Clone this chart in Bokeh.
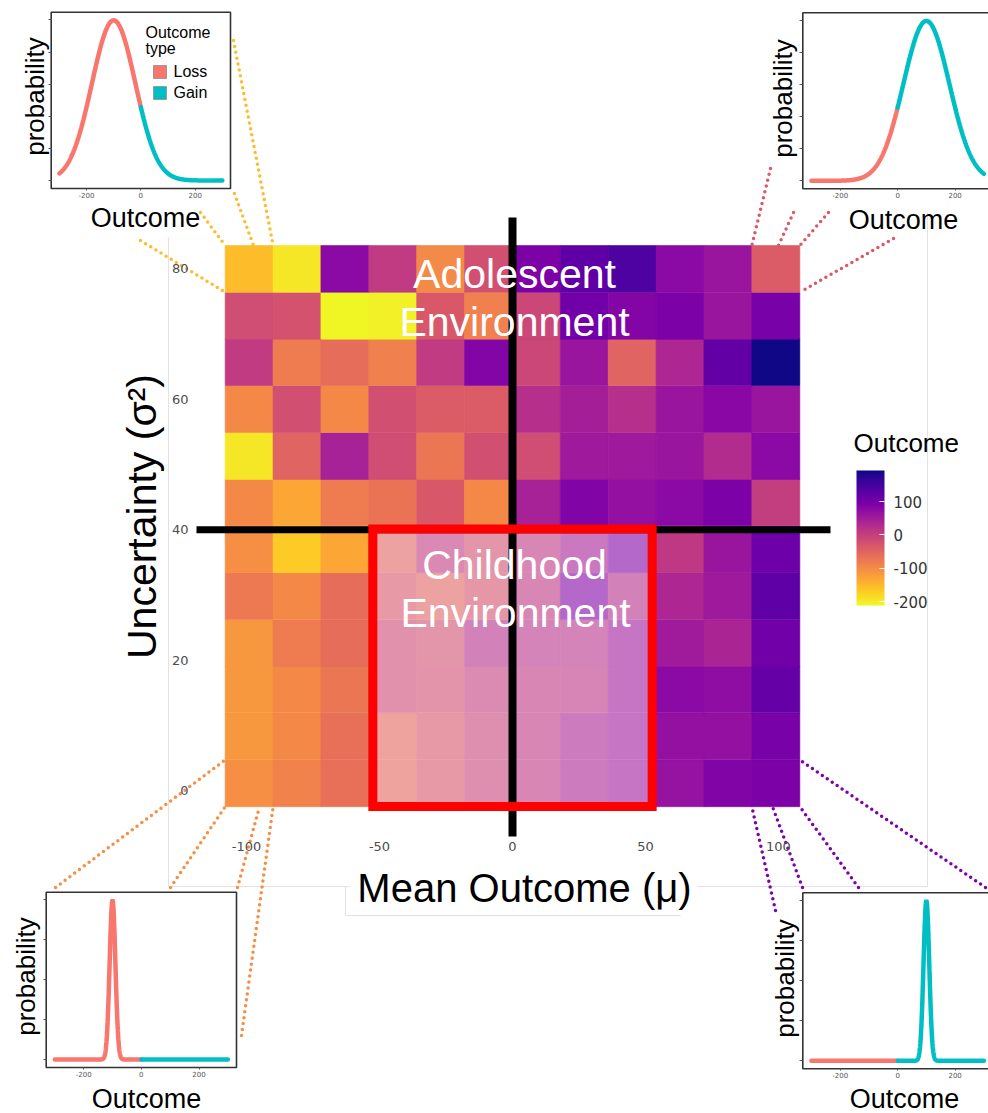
import numpy as np
from bokeh.plotting import figure
from bokeh.models import (ColumnDataSource, LinearColorMapper, ColorBar, LinearAxis,
                          FixedTicker, Range1d)
from bokeh.palettes import Plasma256
from bokeh.core.properties import value
from bokeh.embed import file_html
from bokeh.resources import INLINE

# ------------------------------------------------------------------ data
mean_outcome = [-99, -81, -63, -45, -27, -9, 9, 27, 45, 63, 81, 99]
uncertainty = [1.1, 8.3, 15.5, 22.6, 29.8, 37.0, 44.2, 51.3, 58.5, 65.7, 72.8, 80.0]

outcome_u01 = [-103, -90, -66, -54, -34, -6, 11, 39, 55, 64, 88, 92]
outcome_u08 = [-115, -98, -66, -54, -34, -6, 11, 39, 55, 68, 68, 96]
outcome_u16 = [-115, -98, -74, -14, -18, 3, 11, 15, 55, 76, 72, 116]
outcome_u23 = [-115, -82, -62, -14, -22, 23, 19, 19, 55, 51, 39, 104]
outcome_u30 = [-78, -98, -62, -34, -50, -26, 11, 88, 23, 35, 55, 124]
outcome_u37 = [-103, -168, -131, -50, 7, -22, 11, 43, 88, 11, 60, 108]
outcome_u44 = [-98, -131, -82, -70, -34, -98, 43, 88, 68, 76, 92, 3]
outcome_u51 = [-196, -50, 43, -18, -74, -22, -18, 55, 55, 60, 27, 76]
outcome_u59 = [-98, -22, -98, -22, -38, -38, 23, 47, 23, 60, 80, 60]
outcome_u66 = [7, -82, -62, -86, 7, 84, -10, 60, -50, 35, 120, 190]
outcome_u73 = [-18, -26, -210, -204, -34, -86, -10, 104, 84, 92, 60, 96]
outcome_u80 = [-155, -195, 76, 7, -99, -22, 92, 124, 140, 76, 60, -38]

outcome_rows = [outcome_u01, outcome_u08, outcome_u16, outcome_u23, outcome_u30, outcome_u37,
                outcome_u44, outcome_u51, outcome_u59, outcome_u66, outcome_u73, outcome_u80]

x_ticks = [-100, -50, 0, 50, 100]
y_ticks = [0, 20, 40, 60, 80]
colorbar_ticks = [-200, -100, 0, 100]
outcome_low, outcome_high = -212, 193

divider_mu = 0
divider_sigma2 = 40
childhood_mu = [-52.5, 52.5]
childhood_sigma2 = [-2.45, 40.1]

# inset distributions (mean, sd) and their axes
inset_tl = (-100, 80)
inset_tr = (100, 80)
inset_bl = (-100, 10)
inset_br = (100, 10)
inset_xlim = (-330, 330)
inset_x_ticks = [-200, 0, 200]
inset_ylim_wide = (-0.00025, 0.00524)
inset_ylim_narrow = (-0.002, 0.0419)
inset_y_ticks_wide = [0, 0.001, 0.002, 0.003, 0.004, 0.005]
inset_y_ticks_narrow = [0, 0.01, 0.02, 0.03, 0.04]
loss_color = "#F8766D"
gain_color = "#00BFC4"

# ------------------------------------------------------------------ page geometry
W, H = 988, 1113
PX0, PXS = 512.0, 2.66
PY0, PYS = 790.0, 6.52
cell_w = 18.05
cell_h = 7.17


def X(px):
    return (px - PX0) / PXS


def Y(py):
    return (PY0 - py) / PYS


def hyphen_labels(ticks):
    return {t: str(t) for t in ticks}


FONT = value("Liberation Sans")

p = figure(width=W, height=H, x_range=Range1d(X(0), X(W)), y_range=Range1d(Y(H), Y(0)),
           x_axis_type=None, y_axis_type=None, toolbar_location=None,
           output_backend="svg", min_border=0, outline_line_color=None)
p.background_fill_color = "white"
p.border_fill_color = "white"

# faint frame lines of the pasted panels
p.segment(x0=[X(168), X(927), X(168), X(697), X(345), X(345)],
          y0=[Y(237), Y(212), Y(886), Y(886), Y(886), Y(915)],
          x1=[X(168), X(927), X(350), X(927), X(345), X(680)],
          y1=[Y(886), Y(886), Y(886), Y(886), Y(915), Y(915)],
          line_color="#e2e2e2", line_width=1)

# ------------------------------------------------------------------ heatmap
xs, ys, vs = [], [], []
for u, row in zip(uncertainty, outcome_rows):
    for m, v in zip(mean_outcome, row):
        xs.append(m)
        ys.append(u)
        vs.append(v)
src = ColumnDataSource(dict(x=xs, y=ys, v=vs))
mapper = LinearColorMapper(palette=list(reversed(Plasma256)), low=outcome_low, high=outcome_high)
p.rect(x="x", y="y", width=cell_w, height=cell_h, source=src,
       fill_color={"field": "v", "transform": mapper},
       line_color={"field": "v", "transform": mapper}, line_width=0.6)

# wash over childhood region
p.quad(left=childhood_mu[0], right=childhood_mu[1], bottom=childhood_sigma2[0],
       top=childhood_sigma2[1], fill_color="white", fill_alpha=0.4, line_color=None)

# black cross
p.segment(x0=[divider_mu], y0=[Y(836)], x1=[divider_mu], y1=[Y(217)],
          line_color="black", line_width=8)
p.segment(x0=[X(196)], y0=[divider_sigma2], x1=[X(830)], y1=[divider_sigma2],
          line_color="black", line_width=7)

# red box
p.quad(left=childhood_mu[0], right=childhood_mu[1], bottom=childhood_sigma2[0],
       top=childhood_sigma2[1], fill_color=None, line_color="#ff0000", line_width=9,
       line_join="miter")

# region labels
p.text(x=[X(514), X(514), X(514), X(515)], y=[Y(273), Y(321.5), Y(564), Y(612)],
       text=["Adolescent", "Environment", "Childhood", "Environment"],
       text_color="white", text_font=FONT, text_font_size="41px",
       text_align="center", text_baseline="middle")

# main axes
yax = LinearAxis(ticker=FixedTicker(ticks=y_ticks), fixed_location=X(193),
                 axis_line_color=None, major_tick_line_color=None, minor_tick_line_color=None,
                 major_tick_in=0, major_tick_out=0, major_label_standoff=5,
                 major_label_text_font="DejaVu Sans", major_label_text_font_size="13px",
                 major_label_text_color="#4d4d4d", major_label_overrides=hyphen_labels(y_ticks))
p.add_layout(yax, "left")
xax = LinearAxis(ticker=FixedTicker(ticks=x_ticks), fixed_location=Y(838),
                 axis_line_color=None, major_tick_line_color=None, minor_tick_line_color=None,
                 major_tick_in=0, major_tick_out=0, major_label_standoff=3,
                 major_label_text_font="DejaVu Sans", major_label_text_font_size="13px",
                 major_label_text_color="#4d4d4d", major_label_overrides=hyphen_labels(x_ticks))
p.add_layout(xax, "below")

p.text(x=[X(524)], y=[Y(887.5)], text=["Mean Outcome (μ)"], text_color="black",
       text_font=FONT, text_font_size="40px", text_align="center", text_baseline="middle")
p.text(x=[X(141)], y=[Y(516)], text=["Uncertainty (σ²)"], text_color="black",
       text_font=FONT, text_font_size="41px", text_align="center", text_baseline="middle",
       angle=np.pi / 2)

# colour bar
cb = ColorBar(color_mapper=mapper, ticker=FixedTicker(ticks=colorbar_ticks),
              orientation="vertical", width=28, height=135, location=(856, H - 605),
              padding=0, major_label_overrides=hyphen_labels(colorbar_ticks),
              major_label_text_font="DejaVu Sans", major_label_text_font_size="15px",
              major_label_text_color="#333333", label_standoff=9,
              major_tick_line_color="white", major_tick_in=5, major_tick_out=0,
              minor_tick_line_color=None, bar_line_color=None, border_line_color=None,
              background_fill_color=None)
p.add_layout(cb, "center")
p.text(x=[X(853)], y=[Y(442.5)], text=["Outcome"], text_color="black", text_font=FONT,
       text_font_size="26px", text_align="left", text_baseline="middle")

# ------------------------------------------------------------------ connector lines
cx_left, cx_right = mean_outcome[0] - cell_w / 2, mean_outcome[-1] + cell_w / 2
cy_bot, cy_top = uncertainty[0] - cell_h / 2, uncertainty[-1] + cell_h / 2


def connect(points, color):
    x0 = [X(a) for a, _, _, _ in points]
    y0 = [Y(b) for _, b, _, _ in points]
    x1 = [c for _, _, c, _ in points]
    y1 = [d for _, _, _, d in points]
    p.segment(x0=x0, y0=y0, x1=x1, y1=y1, line_color=color, line_width=3.5,
              line_dash="0 6", line_cap="round")


connect([(140, 240, cx_left, cy_top - cell_h), (200, 212, cx_left, cy_top),
         (234, 193, X(253), cy_top), (233, 40, cx_left + cell_w, cy_top)], "#fbbd2c")
connect([(770, 168, cx_right - cell_w, cy_top), (793, 212, X(778), cy_top),
         (828, 212, cx_right, cy_top), (893, 238, cx_right, cy_top - cell_h)], "#d9596a")
connect([(55, 887, cx_left, cy_bot + cell_h), (170, 887, cx_left, cy_bot),
         (237, 887, X(259), cy_bot), (241, 1035, cx_left + cell_w, cy_bot)], "#f68f46")
connect([(775, 910, cx_right - cell_w, cy_bot), (802, 887, X(772), cy_bot),
         (858, 887, cx_right, cy_bot), (985, 887, cx_right, cy_bot + cell_h)], "#7d03a8")

# ------------------------------------------------------------------ insets
extra_x, extra_y = {}, {}
insets = [
    ("tl", inset_tl, (50.7, 230.0, 11.7, 188.0), inset_ylim_wide, inset_y_ticks_wide),
    ("tr", inset_tr, (802.3, 992.0, 12.3, 188.3), inset_ylim_wide, inset_y_ticks_wide),
    ("bl", inset_bl, (45.7, 236.0, 891.7, 1067.0), inset_ylim_narrow, inset_y_ticks_narrow),
    ("br", inset_br, (802.3, 992.0, 892.3, 1068.3), inset_ylim_narrow, inset_y_ticks_narrow),
]
for name, _, box, ylim, _ in insets:
    L, R, T, B = box
    sx = (R - L) / (inset_xlim[1] - inset_xlim[0])
    sy = (B - T) / (ylim[1] - ylim[0])
    extra_x[name + "_x"] = Range1d(inset_xlim[0] - L / sx, inset_xlim[0] + (W - L) / sx)
    extra_y[name + "_y"] = Range1d(ylim[0] - (H - B) / sy, ylim[1] + T / sy)
p.extra_x_ranges = extra_x
p.extra_y_ranges = extra_y

grid = np.linspace(-300, 300, 1201)
for name, (mu, sd), box, ylim, yt in insets:
    rn = dict(x_range_name=name + "_x", y_range_name=name + "_y")
    p.quad(left=inset_xlim[0], right=inset_xlim[1], bottom=ylim[0], top=ylim[1],
           fill_color="white", line_color="#333333", line_width=1.6, **rn)
    dens = np.exp(-0.5 * ((grid - mu) / sd) ** 2) / (sd * np.sqrt(2 * np.pi))
    loss = grid <= 0
    gain = grid >= 0
    p.line(grid[loss], dens[loss], line_color=loss_color, line_width=4.5, line_cap="round", **rn)
    p.line(grid[gain], dens[gain], line_color=gain_color, line_width=4.5, line_cap="round", **rn)
    ax = LinearAxis(fixed_location=ylim[0], ticker=FixedTicker(ticks=inset_x_ticks),
                    axis_line_color=None, major_tick_line_color="#555555", major_tick_in=0,
                    major_tick_out=2, minor_tick_line_color=None, major_label_standoff=1,
                    major_label_text_font="DejaVu Sans", major_label_text_font_size="7px",
                    major_label_text_color="#555555",
                    major_label_overrides=hyphen_labels(inset_x_ticks), **rn)
    p.add_layout(ax, "below")
    ay = LinearAxis(fixed_location=inset_xlim[0], ticker=FixedTicker(ticks=yt),
                    axis_line_color=None, major_tick_line_color="#555555", major_tick_in=0,
                    major_tick_out=3, minor_tick_line_color=None,
                    major_label_text_color=None, major_label_text_font_size="6px", **rn)
    p.add_layout(ay, "left")

# inset titles
p.text(x=[X(145), X(903), X(146), X(904)], y=[Y(217), Y(219.5), Y(1098), Y(1098.5)],
       text=["Outcome"] * 4, text_color="black", text_font=FONT, text_font_size="27px",
       text_align="center", text_baseline="middle")
p.text(x=[X(34), X(782), X(25), X(784)], y=[Y(96), Y(98), Y(976), Y(978)],
       text=["probability"] * 4, text_color="black", text_font=FONT, text_font_size="26px",
       text_align="center", text_baseline="middle", angle=np.pi / 2)

# legend of the top-left inset
p.text(x=[X(145), X(145)], y=[Y(31.5), Y(48)], text=["Outcome", "type"], text_color="black",
       text_font=FONT, text_font_size="16px", text_align="left", text_baseline="middle")
p.rect(x=[X(159.5), X(159.5)], y=[Y(71.5), Y(92.5)], width=13 / PXS, height=13 / PYS,
       fill_color=[loss_color, gain_color], line_color="#9a9a9a", line_width=1)
p.text(x=[X(173), X(173)], y=[Y(71), Y(91.7)], text=["Loss", "Gain"], text_color="black",
       text_font=FONT, text_font_size="16px", text_align="left", text_baseline="middle")

open("out.html", "w").write(file_html(p, INLINE))
